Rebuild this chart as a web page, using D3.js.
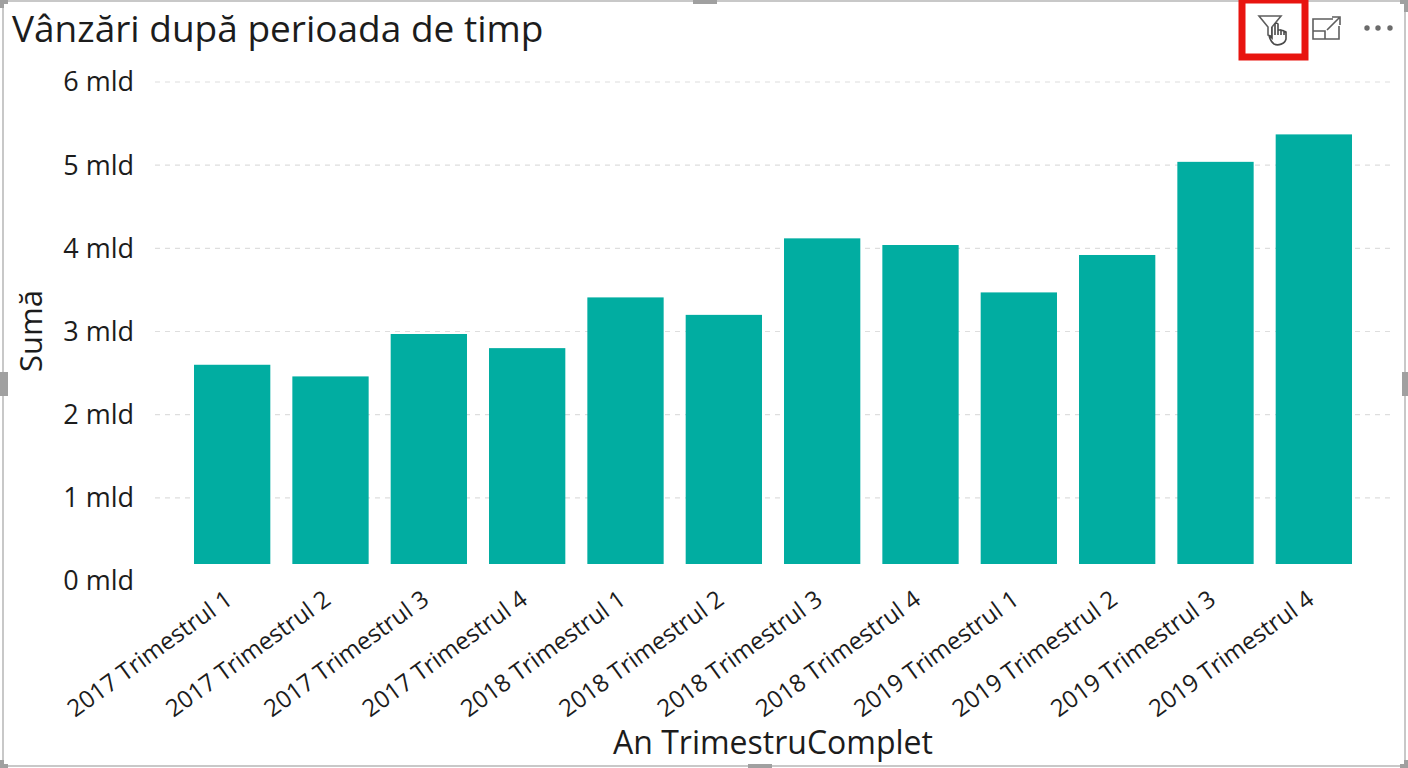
<!DOCTYPE html>
<html>
<head>
<meta charset="utf-8">
<script src="https://cdn.jsdelivr.net/npm/d3@7"></script>
<style>
html, body { margin: 0; padding: 0; background: #fff; overflow: hidden; }
text { font-family: "Open Sans", "Noto Sans", sans-serif; fill: #1c1c1c; }
</style>
</head>
<body>
<script>
const w = 1408;
const h = 768;

const titleText = "Vânzări după perioada de timp";
const xTitle = "An TrimestruComplet";
const yTitle = "Sumă";

const quarters = [
  "2017 Trimestrul 1", "2017 Trimestrul 2", "2017 Trimestrul 3", "2017 Trimestrul 4",
  "2018 Trimestrul 1", "2018 Trimestrul 2", "2018 Trimestrul 3", "2018 Trimestrul 4",
  "2019 Trimestrul 1", "2019 Trimestrul 2", "2019 Trimestrul 3", "2019 Trimestrul 4"
];
// miliarde
const sums = [2.6, 2.46, 2.97, 2.8, 3.41, 3.2, 4.12, 4.04, 3.47, 3.92, 5.04, 5.37];
const yTicks = [0, 1, 2, 3, 4, 5, 6];

const svg = d3.select("body").append("svg")
  .attr("width", w)
  .attr("height", h)
  .style("display", "block");

const x = d3.scaleBand().domain(quarters).range([183, 1363]).paddingInner(0.224).paddingOuter(0.112);
const y = d3.scaleLinear().domain([0, 6]).range([581, 82]);

// the bars stop a bit above the 0 label in the original
const barBottom = 564;

// frame
svg.append("rect")
  .attr("x", 3).attr("y", 1)
  .attr("width", w - 6).attr("height", h - 3)
  .attr("fill", "none")
  .attr("stroke", "#c8c8c8")
  .attr("stroke-width", 2);

// grid
svg.append("g").selectAll("line")
  .data(yTicks.filter(d => d > 0))
  .join("line")
  .attr("x1", 155).attr("x2", 1392)
  .attr("y1", d => y(d)).attr("y2", d => y(d))
  .attr("stroke", "#dedede")
  .attr("stroke-width", 1.2)
  .attr("stroke-dasharray", "5 5");

// bars
svg.append("g").selectAll("rect")
  .data(quarters)
  .join("rect")
  .attr("x", d => x(d))
  .attr("y", (d, i) => y(sums[i]))
  .attr("width", x.bandwidth())
  .attr("height", (d, i) => barBottom - y(sums[i]))
  .attr("fill", "#01ada1");

// y axis labels
svg.append("g").selectAll("text")
  .data(yTicks)
  .join("text")
  .attr("x", 134)
  .attr("y", d => y(d))
  .attr("dy", "0.35em")
  .attr("text-anchor", "end")
  .attr("font-size", 27)
  .text(d => d + " mld");

// x axis labels
svg.append("g").selectAll("text")
  .data(quarters)
  .join("text")
  .attr("transform", d => "translate(" + (x(d) + x.bandwidth() / 2 - 8) + ",589) rotate(-36)")
  .attr("dy", "0.7em")
  .attr("text-anchor", "end")
  .attr("font-size", 24)
  .text(d => d);

// titles
svg.append("text").attr("x", 12).attr("y", 42).attr("font-size", 37).text(titleText);
svg.append("text").attr("x", 773).attr("y", 754).attr("text-anchor", "middle").attr("font-size", 32).text(xTitle);
svg.append("text")
  .attr("transform", "translate(42,331) rotate(-90)")
  .attr("text-anchor", "middle")
  .attr("font-size", 31)
  .text(yTitle);

// resize handles
const handles = [
  [693, 0, 24, 4], [0, 372, 8, 24], [1402, 372, 6, 24], [748, 764, 24, 4],
  [0, 0, 8, 4], [0, 0, 4, 8], [1400, 0, 8, 4], [1404, 0, 4, 12],
  [0, 764, 8, 4], [0, 760, 4, 8], [1400, 764, 8, 4], [1404, 760, 4, 8]
];
svg.append("g").selectAll("rect")
  .data(handles)
  .join("rect")
  .attr("x", d => d[0]).attr("y", d => d[1])
  .attr("width", d => d[2]).attr("height", d => d[3])
  .attr("fill", "#a0a0a0");

// red highlight box round the filter icon
svg.append("rect")
  .attr("x", 1242).attr("y", 0)
  .attr("width", 63).attr("height", 57)
  .attr("fill", "none")
  .attr("stroke", "#e8140f")
  .attr("stroke-width", 7);

const icons = svg.append("g").attr("fill", "none").attr("stroke", "#5e5e5e").attr("stroke-width", 1.6);
// funnel
icons.append("path").attr("d", "M1259 16H1281L1272 27V37L1268 35V27Z");
// hand
icons.append("path")
  .attr("fill", "#fff")
  .attr("stroke", "#4a4a4a")
  .attr("d", "M1272 27V38L1270 36C1268 35 1271 42 1274 44C1278 46 1285 44 1286 39V32L1284 31V35M1284 31L1281 30V35M1281 30L1278 30V35M1278 30V24C1278 23 1275 23 1275 24V35");
// focus mode icon
icons.append("path").attr("d", "M1333 19H1313V39H1339V26M1313 31H1325V39M1327 30L1339 18M1332 17H1340V25");
// dots
svg.append("g").selectAll("circle")
  .data([1367, 1378, 1390])
  .join("circle")
  .attr("cx", d => d).attr("cy", 28).attr("r", 2.7)
  .attr("fill", "#6b6b6b");
</script>
</body>
</html>
